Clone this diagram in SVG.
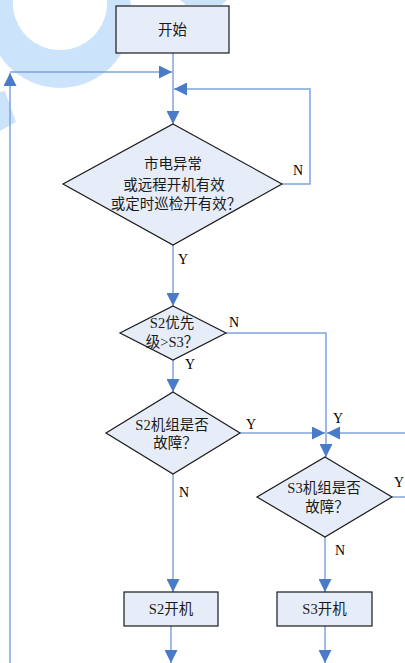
<svg xmlns="http://www.w3.org/2000/svg" width="405" height="663" viewBox="0 0 405 663">
<defs>
<style>
.node{fill:#e6edf8;stroke:#1a1a1a;stroke-width:1.2}
.t{font-family:"Liberation Serif","Noto Sans CJK SC",serif;font-size:14.5px;fill:#1a1a1a;text-anchor:middle}
.lb{font-family:"Liberation Serif","Noto Sans CJK SC",serif;font-size:14px;fill:#000;text-anchor:middle}
.c{fill:none;stroke:#7ea3dd;stroke-width:1.5}
.wm{fill:#cce4fb}
</style>
<marker id="ah" markerUnits="userSpaceOnUse" markerWidth="14" markerHeight="13" refX="13" refY="6.5" orient="auto" viewBox="0 0 14 13">
<path d="M0,0 L13,6.5 L0,13 z" fill="#4a7bc8"/>
</marker>
</defs>
<rect width="405" height="663" fill="#ffffff"/>
<g id="watermark">
<path class="wm" fill-rule="evenodd" d="M-12,16 A72,72 0 1 0 132,16 A72,72 0 1 0 -12,16 Z M13,3 A47,47 0 1 0 107,3 A47,47 0 1 0 13,3 Z"/>
<polygon class="wm" points="0,92 5,91 16,122 0,131"/>
<polygon class="wm" points="180,0 227,0 222,5 186,5"/>
</g>
<g id="connectors">
<line class="c" x1="173" y1="53" x2="173" y2="124" marker-end="url(#ah)"/>
<line class="c" x1="10" y1="663" x2="10" y2="73" marker-end="url(#ah)"/>
<line class="c" x1="10" y1="72" x2="172" y2="72" marker-end="url(#ah)"/>
<polyline class="c" points="282,184 310,184 310,89 174,89" marker-end="url(#ah)"/>
<line class="c" x1="173" y1="245" x2="173" y2="306" marker-end="url(#ah)"/>
<polyline class="c" points="226,333 326,333 326,457" marker-end="url(#ah)"/>
<line class="c" x1="173" y1="360" x2="173" y2="392" marker-end="url(#ah)"/>
<line class="c" x1="240" y1="433" x2="325" y2="433" marker-end="url(#ah)"/>
<line class="c" x1="405" y1="433" x2="327" y2="433" marker-end="url(#ah)"/>
<line class="c" x1="392" y1="497" x2="405" y2="497"/>
<line class="c" x1="173" y1="474" x2="173" y2="592" marker-end="url(#ah)"/>
<line class="c" x1="325" y1="537" x2="325" y2="592" marker-end="url(#ah)"/>
<line class="c" x1="171" y1="626" x2="171" y2="663" marker-end="url(#ah)"/>
<line class="c" x1="325" y1="626" x2="325" y2="663" marker-end="url(#ah)"/>
</g>
<g id="labels">
<text class="lb" x="298" y="175">N</text>
<text class="lb" x="183" y="264">Y</text>
<text class="lb" x="234" y="327">N</text>
<text class="lb" x="190" y="369">Y</text>
<text class="lb" x="251" y="429">Y</text>
<text class="lb" x="338" y="423">Y</text>
<text class="lb" x="399" y="487">Y</text>
<text class="lb" x="184" y="497">N</text>
<text class="lb" x="340" y="555">N</text>
</g>
<g id="start">
<rect class="node" x="116" y="6" width="113" height="47"/>
<text class="t" x="172.5" y="35">开始</text>
</g>
<g id="cond1">
<polygon class="node" points="173,124 282,184 173,245 63,184"/>
<text class="t" x="173" y="169">市电异常</text>
<text class="t" x="174" y="190">或远程开机有效</text>
<text class="t" x="176" y="209">或定时巡检开有效？</text>
</g>
<g id="priority">
<polygon class="node" points="173,306 226,333 173,360 120,333"/>
<text class="t" x="172" y="328">S2优先</text>
<text class="t" x="172" y="347">级&gt;S3？</text>
</g>
<g id="s2fault">
<polygon class="node" points="173,392 240,433 173,474 106,433"/>
<text class="t" x="172" y="430">S2机组是否</text>
<text class="t" x="175" y="448">故障？</text>
</g>
<g id="s3fault">
<polygon class="node" points="325,457 392,497 325,537 257,497"/>
<text class="t" x="324" y="493">S3机组是否</text>
<text class="t" x="327" y="512">故障？</text>
</g>
<g id="s2on">
<rect class="node" x="124" y="592" width="94" height="34"/>
<text class="t" x="171" y="614">S2开机</text>
</g>
<g id="s3on">
<rect class="node" x="277" y="592" width="95" height="34"/>
<text class="t" x="324.5" y="614">S3开机</text>
</g>
</svg>
